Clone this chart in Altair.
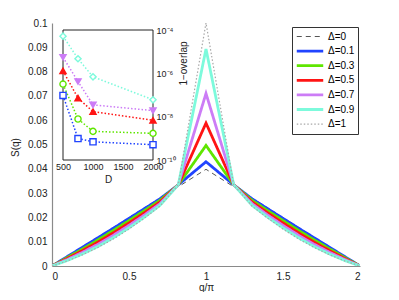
import altair as alt
import pandas as pd

# ---------------- main panel data ----------------
Q_PI = [0, 0.1, 0.2, 0.3, 0.4, 0.5, 0.6, 0.7, 0.82, 1.0,
        1.18, 1.3, 1.4, 1.5, 1.6, 1.7, 1.8, 1.9, 2.0]

S_D00 = [0, .0040, .0080, .0119, .0159, .0199, .0239, .0279, .0326, .0398,
         .0326, .0279, .0239, .0199, .0159, .0119, .0080, .0040, 0]
S_D01 = [0, .0039, .0078, .0117, .0156, .0196, .0236, .0276, .0334, .0429,
         .0334, .0276, .0236, .0196, .0156, .0117, .0078, .0039, 0]
S_D03 = [0, .0035, .0071, .0108, .0147, .0187, .0228, .0270, .0334, .0496,
         .0334, .0270, .0228, .0187, .0147, .0108, .0071, .0035, 0]
S_D05 = [0, .0031, .0064, .0099, .0137, .0177, .0219, .0263, .0334, .0588,
         .0334, .0263, .0219, .0177, .0137, .0099, .0064, .0031, 0]
S_D07 = [0, .0027, .0057, .0090, .0127, .0167, .0210, .0256, .0334, .0710,
         .0334, .0256, .0210, .0167, .0127, .0090, .0057, .0027, 0]
S_D09 = [0, .0023, .0050, .0081, .0117, .0157, .0201, .0249, .0334, .0893,
         .0334, .0249, .0201, .0157, .0117, .0081, .0050, .0023, 0]
S_D10 = [0, .0021, .0047, .0077, .0112, .0152, .0197, .0246, .0334, .1000,
         .0334, .0246, .0197, .0152, .0112, .0077, .0047, .0021, 0]

LABELS = ["Δ=0", "Δ=0.1", "Δ=0.3", "Δ=0.5", "Δ=0.7", "Δ=0.9", "Δ=1"]
SERIES = [S_D00, S_D01, S_D03, S_D05, S_D07, S_D09, S_D10]
COLORS = ["#555555", "#2144ff", "#5fe600", "#ff1414", "#cc7cf6", "#7dfadc", "#a8a8a8"]
DASHES = [[5, 4], [1, 0], [1, 0], [1, 0], [1, 0], [1, 0], [1.5, 2]]
WIDTHS = [1, 2.8, 2.8, 2.8, 2.8, 2.8, 1.2]

Y_TICKS = [0, 0.01, 0.02, 0.03, 0.04, 0.05, 0.06, 0.07, 0.08, 0.09, 0.1]
X_TICKS = [0, 0.5, 1, 1.5, 2]

# ---------------- inset data ----------------
D_VALUES = [500, 750, 1000, 2000]
OV_D01 = [9.5e-8, 9.8e-10, 6.9e-10, 5.1e-10]
OV_D03 = [3.2e-7, 7.8e-9, 2.1e-9, 1.7e-9]
OV_D05 = [1.3e-6, 7.2e-8, 1.7e-8, 6.8e-9]
OV_D07 = [5.5e-6, 4.2e-7, 3.5e-8, 1.9e-8]
OV_D09 = [5.2e-5, 4.7e-6, 6.9e-7, 6.0e-8]
INSET_LABELS = ["Δ=0.1", "Δ=0.3", "Δ=0.5", "Δ=0.7", "Δ=0.9"]
INSET_SERIES = [OV_D01, OV_D03, OV_D05, OV_D07, OV_D09]
INSET_COLORS = ["#2144ff", "#5fe600", "#ff1414", "#cc7cf6", "#7dfadc"]
INSET_SHAPES = ["square", "circle", "triangle-up", "triangle-down", "diamond"]
INSET_FILLS = ["white", "white", "#ff1414", "#cc7cf6", "white"]
INSET_D_DOMAIN = [500, 2000]
INSET_OV_DOMAIN = [1e-10, 1e-4]
INSET_X_TICKS = [500, 1000, 1500, 2000]
INSET_Y_TICKS = [1e-10, 1e-8, 1e-6, 1e-4]

# ---------------- tables ----------------
rows = []
for lab, ser in zip(LABELS, SERIES):
    for q, s in zip(Q_PI, ser):
        rows.append({"q": q, "S": s, "label": lab})
df_main = pd.DataFrame(rows)

irows = []
for lab, ser, col, shp, fil in zip(INSET_LABELS, INSET_SERIES, INSET_COLORS, INSET_SHAPES, INSET_FILLS):
    for d, v in zip(D_VALUES, ser):
        irows.append({"D": d, "ov": v, "label": lab, "col": col, "shape": shp, "fillcol": fil})
df_inset = pd.DataFrame(irows)

df_frame = pd.DataFrame([{"D": INSET_D_DOMAIN[0], "D2": INSET_D_DOMAIN[1],
                          "ov": INSET_OV_DOMAIN[0], "ov2": INSET_OV_DOMAIN[1]}])

FONT = "Liberation Sans"
W, H = 308, 243

legend = alt.Legend(
    title=None, orient="none", legendX=240, legendY=4,
    strokeColor="#333333", fillColor="white", padding=3,
    symbolType="stroke", symbolSize=700, labelFontSize=10, labelFont=FONT,
    clipHeight=13, rowPadding=1.6, labelOffset=3,
)

main = alt.Chart(df_main).mark_line(clip=True).encode(
    x=alt.X("q:Q", scale=alt.Scale(domain=[0, 2], nice=False),
            axis=alt.Axis(title="q/π", orient="bottom", values=X_TICKS, format="~g",
                          ticks=False, labelPadding=5, titleY=21,
                          titleBaseline="middle")),
    y=alt.Y("S:Q", scale=alt.Scale(domain=[0, 0.1], nice=False),
            axis=alt.Axis(title="S(q)", orient="left", values=Y_TICKS, format="~g",
                          ticks=False, labelPadding=5, titleX=-37, titleY=124,
                          titleAngle=270, titleAlign="center", titleBaseline="middle")),
    color=alt.Color("label:N", scale=alt.Scale(type="ordinal", domain=LABELS, range=COLORS),
                    legend=legend),
    strokeDash=alt.StrokeDash("label:N", scale=alt.Scale(type="ordinal", domain=LABELS, range=DASHES),
                              legend=legend),
    strokeWidth=alt.StrokeWidth("label:N", scale=alt.Scale(type="ordinal", domain=LABELS, range=WIDTHS),
                                legend=legend),
)

# inset placement inside the plot area (pixels relative to plot origin)
ix_scale = alt.Scale(domain=INSET_D_DOMAIN, range=[11, 101], nice=False)
iy_scale = alt.Scale(type="log", domain=INSET_OV_DOMAIN, range=[137, 7], nice=False)
ix_axis = alt.Axis(title="D", orient="bottom", offset=-(H - 137), values=INSET_X_TICKS,
                   format="d", labelOverlap=False, labelFlush=False,
                   domain=False, ticks=False, labelPadding=2, labelFontSize=9,
                   titlePadding=3, titleFontSize=10)
iy_axis = alt.Axis(title="1−overlap", orient="right", offset=-(W - 101), values=INSET_Y_TICKS,
                   domain=False, ticks=False, labelPadding=3, labelFontSize=9,
                   labelOverlap=False, labelFlush=False,
                   labelExpr="datum.value >= 1e-5 ? '10⁻⁴' : datum.value >= 1e-7 ? '10⁻⁶' : datum.value >= 1e-9 ? '10⁻⁸' : '10⁻¹⁰'",
                   titleX=30, titleY=40, titleAngle=270, titleAlign="center",
                   titleBaseline="middle", titleFontSize=10)

frame = alt.Chart(df_frame).mark_rect(fill="white", stroke="#222222", strokeWidth=1).encode(
    x=alt.X("D:Q", scale=ix_scale, axis=ix_axis), x2="D2:Q",
    y=alt.Y("ov:Q", scale=iy_scale, axis=iy_axis), y2="ov2:Q",
)
ilines = alt.Chart(df_inset).mark_line(strokeDash=[1.5, 2], strokeWidth=1.5).encode(
    x=alt.X("D:Q", scale=ix_scale, axis=ix_axis),
    y=alt.Y("ov:Q", scale=iy_scale, axis=iy_axis),
    stroke=alt.Stroke("col:N", scale=None, legend=None),
    detail="label:N",
)
ipoints = alt.Chart(df_inset).mark_point(size=38, strokeWidth=1.4, opacity=1).encode(
    x=alt.X("D:Q", scale=ix_scale, axis=ix_axis),
    y=alt.Y("ov:Q", scale=iy_scale, axis=iy_axis),
    stroke=alt.Stroke("col:N", scale=None, legend=None),
    fill=alt.Fill("fillcol:N", scale=None, legend=None),
    shape=alt.Shape("shape:N", scale=None, legend=None),
)
inset = alt.layer(frame, ilines, ipoints)

chart = alt.layer(main, inset).resolve_scale(
    x="independent", y="independent"
).properties(
    width=W, height=H,
    autosize=alt.AutoSizeParams(type="none"),
    padding={"left": 44, "top": 15, "right": 31, "bottom": 26},
).configure_view(stroke=None).configure_axis(
    labelFont=FONT, titleFont=FONT, labelFontSize=10, titleFontSize=10,
    titleFontWeight="normal", labelColor="#222222", titleColor="#222222",
    domainColor="#8a8a8a", domainWidth=1.2, grid=False,
).configure_legend(labelFont=FONT)

chart.save("out.html", embed_options={"renderer": "svg", "actions": False})
